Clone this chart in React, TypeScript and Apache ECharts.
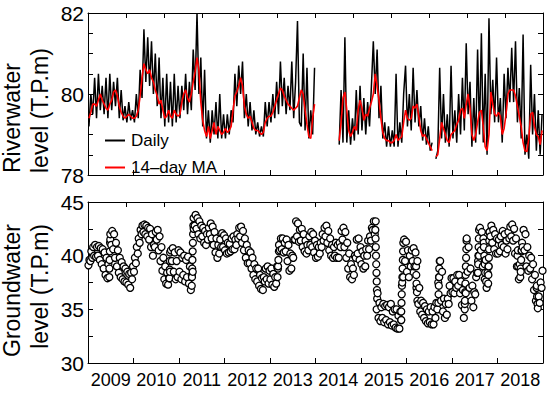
import React, { useEffect, useRef } from 'react';
import * as echarts from 'echarts';

const YEARS = ['2009', '2010', '2011', '2012', '2013', '2014', '2015', '2016', '2017', '2018'];
const X_START = 2009;
const X_END = 2019;
const HALF_MONTH = 1 / 24;

// River water level, daily (half-month samples, alternating band low / high), T.P.m
const riverDaily: (number | null)[] = [
  // 2009
  79.2, 80.0, 79.5, 80.4, 79.4, 80.5, 79.6, 80.2, 79.5, 80.4, 79.4, 80.5, 79.6, 80.3, 79.7, 80.4, 79.4, 80.1, 79.35, 79.7, 79.3, 79.8, 79.35, 79.6,
  // 2010
  79.3, 80.0, 79.4, 80.6, 79.9, 81.6, 80.3, 81.4, 80.2, 81.3, 80.0, 81.0, 79.7, 80.9, 79.4, 80.4, 79.2, 80.5, 79.3, 80.3, 79.2, 80.5, 79.3, 80.2,
  // 2011
  79.4, 80.2, 79.6, 80.5, 79.5, 80.3, 79.6, 81.1, 80.1, 82.0, 80.0, 80.9, 79.2, 80.6, 78.9, 79.6, 78.8, 79.6, 79.0, 79.8, 78.9, 80.0, 78.9, 79.5,
  // 2012
  78.9, 79.5, 79.0, 79.6, 79.3, 80.5, 79.7, 80.7, 80.0, 80.8, 79.4, 80.0, 79.2, 79.8, 79.1, 79.6, 79.0, 79.3, 78.95, 79.2, 78.95, 79.8, 79.2, 79.8,
  // 2013
  79.3, 80.0, 79.4, 80.3, 79.5, 80.8, 79.7, 80.4, 79.5, 80.2, 79.6, 80.8, 79.4, 80.3, 81.8, 79.3, 79.2, 81.0, 79.1, 80.65, 78.9, 79.6, 79.0, 80.65,
  // 2014
  null, null, null, null, null, null, null, null, null, null, null, null, 78.75, 80.1, 78.8, 81.4, 78.8, 79.6, 78.75, 79.4, 78.85, 80.1, 79.0, 80.2,
  // 2015
  79.1, 79.9, 79.0, 79.8, 79.2, 80.2, 81.3, 80.0, 81.1, 79.4, 80.2, 78.9, 79.3, 78.7, 79.2, 78.7, 79.1, 78.7, 80.5, 78.7, 79.3, 78.8, 80.0, 80.7,
  // 2016
  79.2, 80.0, 79.1, 80.65, 79.3, 80.1, 79.2, 79.7, 78.85, 79.4, 78.75, 79.2, 78.6, 78.8, null, 78.4, 78.6, 80.65, 78.9, 80.0, 78.8, 79.5, 78.7, 80.7,
  // 2017
  78.9, 79.6, 78.8, 80.0, 79.0, 80.4, 79.1, 81.25, 79.5, 80.3, 78.7, 79.9, 78.8, 81.1, 79.0, 81.5, 78.8, 80.5, 78.5, 81.87, 79.5, 80.35, 79.3, 80.9,
  // 2018
  79.3, 79.9, 78.8, 80.5, 79.4, 80.65, 79.8, 81.14, 79.8, 81.3, 79.3, 80.15, 78.9, 81.47, 78.5, 79.0, 78.4, 80.72, 79.0, 80.0, 78.6, 79.6, 78.5, 79.5,
];

// River water level, 14-day moving average (half-month samples), T.P.m
const riverMA: (number | null)[] = [
  // 2009
  79.4, 79.55, 79.75, 79.75, 79.7, 79.85, 80.0, 79.85, 79.75, 79.65, 79.6, 79.75, 79.85, 80.05, 80.1, 79.95, 79.7, 79.55, 79.45, 79.4, 79.45, 79.5, 79.45, 79.4,
  // 2010
  79.4, 79.45, 79.6, 79.95, 80.4, 80.75, 80.6, 80.5, 80.6, 80.4, 80.3, 80.1, 79.95, 79.75, 79.85, 79.6, 79.4, 79.45, 79.6, 79.45, 79.4, 79.6, 79.5, 79.45,
  // 2011
  79.5, 79.8, 80.0, 80.1, 79.9, 79.8, 80.0, 80.3, 80.55, 80.9, 80.6, 79.8, 79.35, 79.1, 78.95, 79.2, 78.9, 79.1, 79.3, 79.0, 79.2, 79.1, 79.0, 79.05,
  // 2012
  79.15, 79.05, 79.1, 79.2, 79.6, 79.95, 80.05, 80.2, 80.4, 80.2, 79.7, 79.5, 79.4, 79.45, 79.3, 79.15, 79.1, 79.1, 79.05, 79.0, 79.05, 79.3, 79.4, 79.45,
  // 2013
  79.45, 79.55, 79.7, 79.85, 80.0, 80.15, 80.1, 79.95, 79.85, 79.75, 79.7, 79.65, 79.6, 79.65, 79.7, 79.9, 80.1, 80.0, 79.6, 79.25, 78.95, 78.9, 79.4, 79.75,
  // 2014
  null, null, null, null, null, null, null, null, null, null, null, null, 78.85, 79.3, 79.9, 80.05, 79.6, 79.1, 78.95, 79.05, 79.2, 79.1, 79.6, 79.85,
  // 2015
  79.65, 79.35, 79.5, 79.45, 79.65, 79.8, 80.0, 80.5, 80.2, 79.85, 79.4, 79.05, 78.9, 78.85, 78.85, 78.8, 78.8, 78.85, 79.0, 78.85, 78.9, 78.95, 79.3, 79.6,
  // 2016
  79.4, 79.35, 79.4, 79.7, 79.65, 79.75, 79.45, 79.1, 78.95, 79.0, 78.9, 78.8, 78.7, 78.6, null, 78.45, 78.5, 78.9, 79.3, 79.15, 79.0, 78.85, 78.8, 79.0,
  // 2017
  79.05, 79.1, 79.25, 79.35, 79.6, 79.65, 79.4, 79.75, 80.0, 79.65, 79.0, 78.85, 79.0, 79.3, 79.55, 79.6, 79.2, 78.7, 78.6, 79.0, 80.05, 79.75, 79.5, 79.45,
  // 2018
  79.55, 79.45, 79.0, 79.15, 79.5, 80.0, 80.1, 80.1, 80.1, 79.95, 79.7, 79.45, 79.2, 78.8, 78.6, 78.58, 78.9, 79.5, 79.55, 79.2, 79.0, 78.95, 78.75, 79.1,
];

// Groundwater level: [lower, upper] of the observed scatter band, per half month, T.P.m
const gwBand: [number, number][] = [
  // 2009
  [39.1, 39.6], [39.5, 40.4], [39.8, 40.8], [40.0, 41.0], [39.9, 40.8], [40.0, 40.9], [39.6, 40.7], [39.2, 40.6], [38.8, 40.3], [38.2, 39.8], [37.9, 39.2], [38.0, 41.5],
  [41.0, 42.3], [40.6, 42.0], [39.8, 41.2], [39.0, 40.5], [38.4, 39.8], [38.0, 39.4], [37.8, 39.0], [37.6, 38.8], [37.5, 38.5], [37.3, 38.3], [37.0, 38.4], [37.8, 39.0],
  // 2010
  [38.5, 39.8], [39.3, 40.8], [40.2, 41.6], [41.2, 42.4], [42.0, 42.8], [42.2, 42.9], [42.0, 42.8], [41.8, 42.6], [41.5, 42.5], [40.8, 42.0], [40.0, 41.0], [40.8, 42.2],
  [41.5, 42.4], [40.5, 41.8], [39.5, 40.8], [38.6, 39.8], [37.8, 39.0], [37.4, 38.4], [37.3, 37.9], [38.5, 40.5], [39.5, 40.7], [38.5, 40.3], [37.8, 39.5], [38.0, 40.5],
  // 2011
  [38.5, 40.3], [37.8, 39.8], [38.2, 40.0], [37.6, 39.6], [38.0, 39.9], [37.4, 39.0], [36.8, 38.2], [38.5, 42.5], [42.8, 43.8], [42.5, 43.5], [42.0, 43.2], [41.6, 42.8],
  [41.8, 42.6], [41.2, 42.3], [41.0, 42.0], [41.5, 42.6], [42.0, 43.0], [41.6, 42.7], [41.0, 42.2], [40.3, 41.6], [39.8, 41.0], [40.2, 41.5], [40.8, 42.1], [40.8, 41.9],
  // 2012
  [40.5, 41.6], [40.2, 41.2], [40.3, 41.1], [40.4, 41.6], [40.6, 41.8], [40.6, 41.5], [41.0, 42.0], [41.6, 42.6], [41.8, 42.7], [41.2, 42.3], [40.5, 41.6], [39.8, 41.0],
  [39.3, 40.5], [39.3, 40.3], [38.8, 39.8], [38.2, 39.2], [37.8, 38.8], [37.6, 38.8], [37.2, 38.2], [36.9, 37.9], [36.8, 38.0], [37.6, 38.8], [37.8, 39.0], [37.4, 38.6],
  // 2013
  [37.8, 38.8], [37.3, 38.3], [37.1, 38.0], [37.4, 39.0], [39.0, 41.0], [40.5, 41.6], [40.6, 41.6], [40.3, 41.2], [40.4, 41.5], [39.5, 41.0], [38.6, 40.2], [38.8, 40.0],
  [39.8, 41.5], [41.5, 43.2], [41.8, 43.0], [41.3, 42.4], [41.4, 42.5], [40.8, 42.0], [40.4, 41.4], [40.2, 41.0], [40.5, 41.8], [41.0, 42.2], [40.8, 42.0], [40.3, 41.4],
  // 2014
  [39.8, 41.0], [39.9, 40.8], [40.2, 41.2], [40.8, 42.0], [41.4, 42.6], [41.8, 42.8], [41.2, 42.3], [40.5, 41.6], [40.0, 41.0], [39.8, 40.8], [40.0, 41.2], [39.8, 41.0],
  [39.8, 41.2], [40.8, 42.3], [41.5, 42.6], [40.8, 42.2], [39.8, 41.2], [38.8, 40.2], [38.0, 39.2], [37.8, 38.8], [38.2, 40.0], [39.8, 41.5], [40.2, 41.6], [39.6, 40.8],
  // 2015
  [39.2, 40.4], [38.8, 40.0], [39.0, 40.6], [40.0, 41.4], [40.6, 41.8], [41.4, 42.6], [42.4, 43.2], [42.0, 43.2], [35.0, 36.5], [34.2, 35.6], [33.9, 35.2], [34.2, 35.5],
  [33.8, 35.3], [34.0, 35.4], [33.6, 35.2], [33.8, 35.5], [33.5, 34.8], [33.6, 35.0], [33.3, 35.0], [33.2, 34.4], [33.2, 34.8], [34.0, 37.5], [38.0, 41.5], [39.5, 41.3],
  // 2016
  [38.5, 40.5], [38.0, 40.0], [39.0, 40.5], [39.5, 40.7], [39.0, 40.3], [37.0, 39.5], [35.5, 37.0], [34.8, 35.8], [34.5, 35.6], [34.2, 35.3], [33.9, 35.0], [33.7, 34.8],
  [33.8, 35.2], [33.6, 34.8], [33.6, 35.2], [34.2, 35.6], [35.0, 37.5], [38.0, 39.5], [35.8, 38.5], [34.8, 36.0], [34.2, 35.5], [34.5, 36.0], [35.5, 37.2], [36.5, 37.9],
  // 2017
  [36.6, 37.9], [36.5, 37.6], [37.0, 38.2], [37.2, 38.2], [36.5, 37.6], [35.4, 36.8], [34.2, 35.5], [36.5, 41.6], [38.5, 40.8], [37.0, 38.8], [35.8, 37.2], [35.2, 36.6],
  [36.4, 38.0], [38.4, 39.5], [40.0, 42.6], [40.5, 42.2], [39.0, 41.2], [37.8, 39.6], [37.0, 38.4], [39.0, 42.2], [41.8, 42.8], [41.2, 42.4], [40.6, 42.0], [40.2, 41.6],
  // 2018
  [40.2, 41.5], [40.4, 41.8], [41.0, 42.3], [40.8, 42.0], [40.2, 41.4], [40.6, 42.2], [41.6, 42.7], [41.8, 42.9], [41.4, 42.5], [40.2, 41.6], [39.0, 40.5], [37.8, 39.2],
  [38.5, 40.5], [40.8, 42.4], [40.5, 42.0], [39.0, 40.8], [38.6, 40.0], [38.8, 39.8], [37.8, 39.2], [36.8, 38.2], [35.8, 37.2], [35.1, 36.2], [35.6, 37.5], [37.0, 38.6],
];

// Groundwater observations during rapid rises / falls [decimal year, T.P.m]
const gwRapid: [number, number][] = [
  [2009.47, 38.8], [2009.475, 39.6], [2009.48, 40.4], [2009.485, 41.2], [2009.49, 42.0],
  [2010.79, 37.9], [2010.795, 38.7], [2010.8, 39.5], [2010.805, 40.3],
  [2011.28, 37.2], [2011.285, 38.0], [2011.29, 38.8], [2011.295, 39.6], [2011.3, 40.4], [2011.305, 41.2], [2011.31, 42.0], [2011.315, 42.8], [2011.32, 43.5],
  [2013.165, 38.0], [2013.175, 38.8], [2013.185, 39.6], [2013.195, 40.4],
  [2015.315, 42.4], [2015.32, 41.6], [2015.325, 40.8], [2015.33, 40.0], [2015.335, 39.2], [2015.34, 38.4], [2015.345, 37.6], [2015.35, 36.8], [2015.355, 36.0],
  [2015.88, 34.0], [2015.885, 34.8], [2015.89, 35.6], [2015.895, 36.4], [2015.9, 37.2], [2015.91, 38.0], [2015.915, 38.8], [2015.92, 39.6], [2015.925, 40.4], [2015.93, 41.2],
  [2016.21, 39.0], [2016.215, 38.2], [2016.22, 37.4], [2016.23, 36.6], [2016.24, 35.8],
  [2016.7, 35.6], [2016.705, 36.4], [2016.71, 37.2], [2016.715, 38.0], [2016.72, 38.8], [2016.73, 39.5],
  [2017.28, 35.0], [2017.285, 35.8], [2017.29, 36.6], [2017.295, 37.4], [2017.3, 38.2], [2017.305, 39.0], [2017.31, 39.8], [2017.315, 40.6], [2017.32, 41.4],
  [2017.57, 38.4], [2017.575, 39.2], [2017.58, 40.0], [2017.585, 40.8], [2017.59, 41.6], [2017.595, 42.4],
  [2017.69, 41.6], [2017.7, 40.8], [2017.71, 40.0], [2017.72, 39.2], [2017.73, 38.4], [2017.75, 37.6],
  [2017.795, 37.4], [2017.8, 38.2], [2017.805, 39.0], [2017.81, 39.8], [2017.815, 40.6], [2017.82, 41.4], [2017.825, 42.2],
  [2018.44, 40.0], [2018.455, 39.0],
  [2018.5, 38.0], [2018.51, 38.8], [2018.52, 39.6], [2018.53, 40.4], [2018.54, 41.2],
  [2018.86, 37.0], [2018.87, 36.2], [2018.88, 35.5],
];

const FONT = "'Liberation Sans', Arial, Helvetica, sans-serif";

const toSeries = (vals: (number | null)[]) =>
  vals.map((v, i) => [X_START + (i + 0.5) * HALF_MONTH, v === null ? '-' : v]);

function groundwaterPoints(): [number, number][] {
  const pts: [number, number][] = [];
  gwBand.forEach(([lo, hi], k) => {
    pts.push([X_START + (k + 0.25) * HALF_MONTH, lo]);
    pts.push([X_START + (k + 0.75) * HALF_MONTH, hi]);
  });
  gwRapid.forEach((p) => pts.push(p));
  return pts.sort((a, b) => a[0] - b[0]);
}

const line = { show: true, lineStyle: { color: '#000', width: 1 } };
const tick = { show: true, inside: true, length: 5, lineStyle: { color: '#000', width: 1 } };

function yearAxis(gridIndex: number) {
  return {
    gridIndex, type: 'value', min: X_START, max: X_END, interval: 1, position: 'bottom',
    axisLine: line, axisTick: tick, axisLabel: { show: false }, splitLine: { show: false },
  };
}
function topAxis(gridIndex: number) {
  return {
    gridIndex, type: 'value', min: 0, max: 12, interval: 1, position: 'top',
    axisLine: line, axisTick: tick, axisLabel: { show: false }, splitLine: { show: false },
  };
}
function valAxis(gridIndex: number, min: number, max: number, interval: number, labelEvery: number, side: 'left' | 'right') {
  return {
    gridIndex, type: 'value', min, max, interval, position: side,
    axisLine: line, axisTick: tick, splitLine: { show: false },
    axisLabel: side === 'left'
      ? {
          show: true, fontSize: 21, color: '#000', fontFamily: FONT, margin: 4,
          formatter: (v: number) => (Math.abs(v / labelEvery - Math.round(v / labelEvery)) < 1e-6 ? String(v) : ''),
        }
      : { show: false },
  };
}

export default function App() {
  const ref = useRef<HTMLDivElement>(null);
  useEffect(() => {
    const chart = echarts.init(ref.current!, null, { renderer: 'svg' });
    const option = {
      animation: false,
      backgroundColor: '#fff',
      textStyle: { fontFamily: FONT },
      grid: [
        { left: 88, top: 13, width: 455, height: 162 },
        { left: 88, top: 202, width: 455, height: 161 },
      ],
      xAxis: [
        yearAxis(0), topAxis(0), yearAxis(1), topAxis(1),
        {
          gridIndex: 1, type: 'category', data: YEARS, position: 'bottom', boundaryGap: true,
          axisLine: { show: false }, axisTick: { show: false }, splitLine: { show: false },
          axisLabel: { show: true, interval: 0, fontSize: 18, color: '#000', fontFamily: FONT, margin: 8 },
        },
      ],
      yAxis: [
        valAxis(0, 78, 82, 0.5, 2, 'left'), valAxis(0, 78, 82, 0.5, 2, 'right'),
        valAxis(1, 30, 45, 2.5, 5, 'left'), valAxis(1, 30, 45, 2.5, 5, 'right'),
      ],
      legend: {
        orient: 'vertical', left: 105, top: 132, padding: 0, itemGap: 10, itemWidth: 20, itemHeight: 2,
        icon: 'rect',
        textStyle: { fontSize: 17, color: '#000', fontFamily: FONT, padding: [0, 0, 0, 1] },
        data: ['Daily', '14\u2013day MA'],
      },
      graphic: [
        { type: 'text', x: 12, y: 173, rotation: Math.PI / 2, style: { text: 'Riverwater', font: `23px ${FONT}`, fill: '#000', textAlign: 'left', textVerticalAlign: 'middle' } },
        { type: 'text', x: 40, y: 173, rotation: Math.PI / 2, style: { text: 'level (T.P.m)', font: `23px ${FONT}`, fill: '#000', textAlign: 'left', textVerticalAlign: 'middle' } },
        { type: 'text', x: 12, y: 224, rotation: Math.PI / 2, style: { text: 'Groundwater', font: `23px ${FONT}`, fill: '#000', textAlign: 'right', textVerticalAlign: 'middle' } },
        { type: 'text', x: 40, y: 224, rotation: Math.PI / 2, style: { text: 'level (T.P.m)', font: `23px ${FONT}`, fill: '#000', textAlign: 'right', textVerticalAlign: 'middle' } },
      ],
      series: [
        {
          name: 'Daily', type: 'line', xAxisIndex: 0, yAxisIndex: 0, data: toSeries(riverDaily),
          symbol: 'none', showSymbol: false, connectNulls: false,
          lineStyle: { color: '#000', width: 1.5 }, itemStyle: { color: '#000' }, z: 2,
        },
        {
          name: '14\u2013day MA', type: 'line', xAxisIndex: 0, yAxisIndex: 0, data: toSeries(riverMA),
          symbol: 'none', showSymbol: false, connectNulls: false,
          lineStyle: { color: '#ff0000', width: 1.6 }, itemStyle: { color: '#ff0000' }, z: 3,
        },
        {
          name: 'Groundwater', type: 'scatter', xAxisIndex: 2, yAxisIndex: 2, data: groundwaterPoints(),
          symbol: 'circle', symbolSize: 7,
          itemStyle: { color: '#fff', borderColor: '#000', borderWidth: 1.3, opacity: 1 }, z: 2,
        },
      ],
    };
    chart.setOption(option as any);
    return () => chart.dispose();
  }, []);
  return (
    <div
      ref={ref}
      style={{ position: 'fixed', left: 0, top: 0, width: 550, height: 398, background: '#fff' }}
    />
  );
}
